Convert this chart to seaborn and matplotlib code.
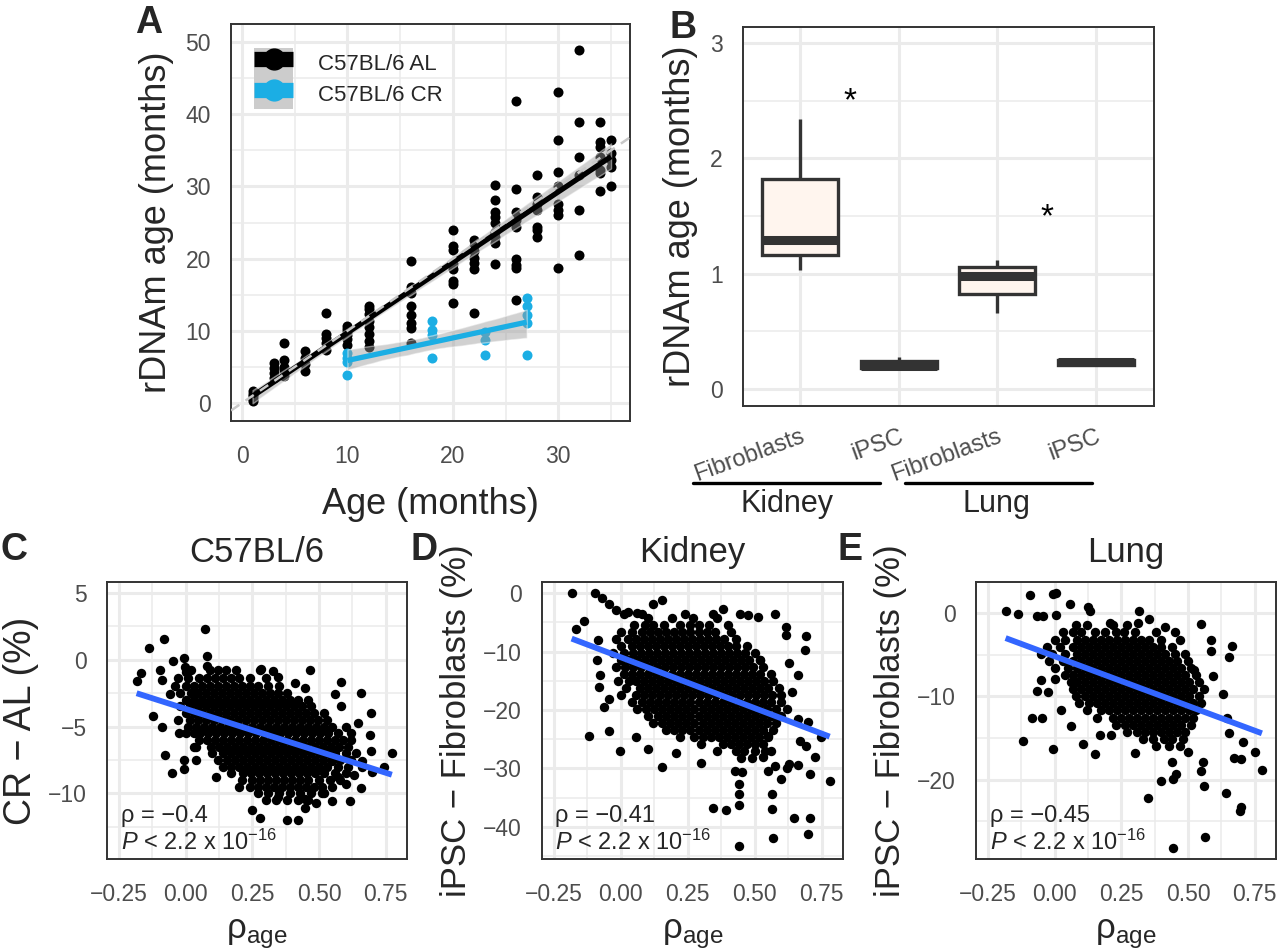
import pandas as pd
import seaborn as sns
import matplotlib.pyplot as plt
from matplotlib.ticker import AutoMinorLocator
from matplotlib.lines import Line2D
from matplotlib.patches import Rectangle
from matplotlib.collections import PolyCollection
from matplotlib.legend_handler import HandlerTuple
from matplotlib.transforms import blended_transform_factory

sns.set_style("white")
plt.rcParams['font.family'] = ['Liberation Sans', 'DejaVu Sans']
plt.rcParams['mathtext.fontset'] = 'custom'
plt.rcParams['mathtext.rm'] = 'Liberation Sans'
plt.rcParams['mathtext.it'] = 'Liberation Sans:italic'
plt.rcParams['axes.unicode_minus'] = True

# ---- panel A: rDNAm age vs age ----
al_ages = [1, 3, 4, 6, 8, 10, 12, 16, 20, 22, 24, 26, 28, 30, 32, 34, 35]
al_values = [
    [0.3, 0.6, 0.9, 1.2, 1.6],
    [3.4, 4.2, 4.8, 5.5],
    [3.8, 4.6, 5.0, 6.0, 8.3],
    [4.4, 5.4, 6.2, 7.2],
    [7.4, 8.3, 9.0, 9.6, 12.5],
    [8.1, 8.8, 9.4, 9.9, 10.3, 10.6],
    [7.8, 8.6, 9.6, 10.5, 11.4, 12.3, 13.0, 13.5],
    [8.3, 10.4, 11.1, 12.2, 13.4, 15.2, 16.1, 19.7],
    [13.9, 16.5, 16.9, 18.5, 19.3, 21.2, 21.8, 24.0],
    [12.5, 18.5, 19.4, 20.1, 21.0, 21.7, 22.6],
    [19.3, 22.1, 23.0, 23.7, 24.9, 25.8, 26.5, 28.1, 30.2],
    [14.3, 18.7, 19.1, 20.0, 24.4, 25.3, 26.5, 29.7, 41.8],
    [23.0, 24.0, 24.4, 26.7, 27.6, 28.6, 31.6],
    [18.7, 26.0, 26.7, 27.6, 30.0, 32.0, 36.4, 43.1],
    [20.5, 26.7, 31.6, 34.1, 38.9, 48.9],
    [29.3, 31.8, 32.3, 34.1, 35.5, 36.2, 38.9],
    [30.0, 32.7, 33.6, 34.6, 36.4],
]
cr_ages = [10, 18, 23, 27]
cr_values = [
    [3.9, 5.7, 6.3, 6.9],
    [6.2, 9.4, 10.1, 11.4],
    [6.7, 8.7, 9.8],
    [6.7, 11.1, 12.2, 13.4, 14.5],
]
legend_labels = ['C57BL/6 AL', 'C57BL/6 CR']

# ---- panel B: boxplots ----
b_groups = ['Kidney Fibroblasts', 'Kidney iPSC', 'Lung Fibroblasts', 'Lung iPSC']
b_ticklabels = ['Fibroblasts', 'iPSC', 'Fibroblasts', 'iPSC']
b_values = [
    [1.03, 1.16, 1.29, 1.82, 2.34],
    [0.17, 0.18, 0.20, 0.24, 0.28],
    [0.66, 0.82, 0.98, 1.06, 1.12],
    [0.20, 0.21, 0.23, 0.25, 0.26],
]
b_star_x = [0.5, 2.5]
b_star_y = [2.42, 1.41]
tissues = ['Kidney', 'Lung']

# ---- panel C: CR - AL vs rho_age ----
c_row_y = [-0.8, -1.4, -2.0, -2.5, -3.0, -3.5, -4.0, -4.5, -5.0, -5.5,
           -6.0, -6.5, -7.0, -7.5, -8.0, -8.5, -9.0, -9.5, -10.0, -10.5]
c_row_x = [
    [0.02, 0.09, 0.12, 0.15, 0.19, 0.28],
    [-0.03, 0.01, 0.05, 0.08, 0.11, 0.14, 0.17, 0.20, 0.24, 0.30],
    [-0.04, 0.0, 0.03, 0.06, 0.09, 0.12, 0.15, 0.18, 0.21, 0.24, 0.27, 0.31, 0.35],
    [-0.02, 0.02, 0.045, 0.075, 0.105, 0.135, 0.165, 0.195, 0.225, 0.255, 0.285, 0.315, 0.345, 0.38],
    [0.0, 0.03, 0.06, 0.09, 0.12, 0.15, 0.18, 0.21, 0.24, 0.27, 0.30, 0.33, 0.36, 0.39, 0.42, 0.46],
    [-0.02, 0.015, 0.045, 0.075, 0.105, 0.135, 0.165, 0.195, 0.225, 0.255, 0.285, 0.315, 0.345, 0.375, 0.405, 0.435, 0.47],
    [0.0, 0.03, 0.06, 0.09, 0.12, 0.15, 0.18, 0.21, 0.24, 0.27, 0.30, 0.33, 0.36, 0.39, 0.42, 0.45, 0.48, 0.52],
    [-0.03, 0.015, 0.045, 0.075, 0.105, 0.135, 0.165, 0.195, 0.225, 0.255, 0.285, 0.315, 0.345, 0.375, 0.405, 0.435, 0.465, 0.495, 0.53],
    [0.01, 0.04, 0.07, 0.10, 0.13, 0.16, 0.19, 0.22, 0.25, 0.28, 0.31, 0.34, 0.37, 0.40, 0.43, 0.46, 0.49, 0.52, 0.55, 0.60],
    [0.0, 0.03, 0.055, 0.085, 0.115, 0.145, 0.175, 0.205, 0.235, 0.265, 0.295, 0.325, 0.355, 0.385, 0.415, 0.445, 0.475, 0.505, 0.535, 0.57, 0.62],
    [0.05, 0.08, 0.11, 0.14, 0.17, 0.20, 0.23, 0.26, 0.29, 0.32, 0.35, 0.38, 0.41, 0.44, 0.47, 0.50, 0.53, 0.56, 0.59],
    [0.03, 0.095, 0.125, 0.155, 0.185, 0.215, 0.245, 0.275, 0.305, 0.335, 0.365, 0.395, 0.425, 0.455, 0.485, 0.515, 0.545, 0.575, 0.61],
    [0.10, 0.14, 0.17, 0.20, 0.23, 0.26, 0.29, 0.32, 0.35, 0.38, 0.41, 0.44, 0.47, 0.50, 0.53, 0.56, 0.60, 0.64],
    [0.12, 0.155, 0.185, 0.215, 0.245, 0.275, 0.305, 0.335, 0.365, 0.395, 0.425, 0.455, 0.485, 0.515, 0.545, 0.58, 0.62],
    [0.14, 0.17, 0.20, 0.23, 0.26, 0.29, 0.32, 0.35, 0.38, 0.41, 0.44, 0.47, 0.50, 0.53, 0.57, 0.61, 0.66],
    [0.17, 0.215, 0.245, 0.275, 0.305, 0.335, 0.365, 0.395, 0.425, 0.455, 0.485, 0.52, 0.56, 0.60],
    [0.21, 0.25, 0.28, 0.31, 0.34, 0.37, 0.40, 0.43, 0.46, 0.50, 0.54, 0.58],
    [0.24, 0.27, 0.30, 0.33, 0.36, 0.39, 0.42, 0.45, 0.48, 0.51, 0.55],
    [0.27, 0.31, 0.35, 0.39, 0.43, 0.47, 0.52],
    [0.30, 0.34, 0.38, 0.42, 0.46],
]
c_out_x = [0.071, -0.081, -0.139, -0.184, -0.168, -0.124, -0.088, -0.078, -0.051, -0.006,
           -0.008, -0.096, -0.088, -0.047, -0.001, -0.007, 0.08, 0.08, 0.249, 0.28,
           0.38, 0.42, 0.447, 0.49, 0.615, 0.547, 0.658, 0.773, 0.743, 0.696,
           0.69, 0.696, 0.658, 0.583, 0.466, 0.329, 0.348, 0.283, 0.411, 0.446,
           0.56, 0.583, 0.645, 0.62, 0.547, 0.57, 0.51, 0.447, 0.348, 0.2,
           0.112, 0.037, -0.025, 0.037, 0.66, 0.63, 0.70, 0.60, -0.06, 0.0]
c_out_y = [2.25, 1.55, 0.83, -1.63, -1.0, -4.25, -5.0, -7.1, -8.45, -8.2,
           -7.5, -0.75, -1.5, -0.12, -0.55, 0.12, 0.3, -0.45, -11.25, -11.8,
           -12.0, -11.95, -11.1, -10.7, -10.6, -10.6, -9.6, -7.0, -8.0, -4.0,
           -5.6, -6.8, -2.5, -1.7, -0.8, -0.88, -1.33, -0.7, -1.75, -2.1,
           -2.6, -3.5, -4.75, -6.0, -7.6, -8.75, -10.0, -10.4, -10.25, -9.5,
           -8.75, -7.5, -5.5, -6.5, -7.6, -8.6, -8.4, -9.3, -2.6, -0.9]

# ---- panel D: Kidney iPSC - Fibroblasts vs rho_age ----
d_row_y = [-4.2, -5.4, -6.6, -7.8, -9.0, -10.2, -11.4, -12.6, -13.8, -15.0,
           -16.2, -17.4, -18.6, -19.8, -21.0, -22.2, -23.4, -24.6, -25.8, -27.0, -28.2]
d_row_x = [
    [0.10, 0.19, 0.27, 0.36],
    [0.05, 0.09, 0.12, 0.16, 0.22, 0.26, 0.29, 0.33, 0.40],
    [0.0, 0.04, 0.08, 0.11, 0.14, 0.17, 0.20, 0.23, 0.26, 0.29, 0.32, 0.35, 0.41],
    [-0.02, 0.025, 0.055, 0.085, 0.115, 0.145, 0.175, 0.205, 0.235, 0.265, 0.295, 0.325, 0.355, 0.385, 0.43],
    [0.0, 0.04, 0.07, 0.10, 0.13, 0.16, 0.19, 0.22, 0.25, 0.28, 0.31, 0.34, 0.37, 0.40, 0.43, 0.47],
    [-0.03, 0.01, 0.045, 0.075, 0.105, 0.135, 0.165, 0.195, 0.225, 0.255, 0.285, 0.315, 0.345, 0.375, 0.405, 0.435, 0.465, 0.50],
    [0.0, 0.03, 0.06, 0.09, 0.12, 0.15, 0.18, 0.21, 0.24, 0.27, 0.30, 0.33, 0.36, 0.39, 0.42, 0.45, 0.48, 0.52],
    [-0.02, 0.015, 0.045, 0.075, 0.105, 0.135, 0.165, 0.195, 0.225, 0.255, 0.285, 0.315, 0.345, 0.375, 0.405, 0.435, 0.465, 0.495, 0.53],
    [0.01, 0.04, 0.07, 0.10, 0.13, 0.16, 0.19, 0.22, 0.25, 0.28, 0.31, 0.34, 0.37, 0.40, 0.43, 0.46, 0.49, 0.52, 0.56],
    [-0.01, 0.03, 0.055, 0.085, 0.115, 0.145, 0.175, 0.205, 0.235, 0.265, 0.295, 0.325, 0.355, 0.385, 0.415, 0.445, 0.475, 0.505, 0.535, 0.57],
    [0.02, 0.07, 0.10, 0.13, 0.16, 0.19, 0.22, 0.25, 0.28, 0.31, 0.34, 0.37, 0.40, 0.43, 0.46, 0.49, 0.52, 0.55, 0.59],
    [0.0, 0.055, 0.085, 0.115, 0.145, 0.175, 0.205, 0.235, 0.265, 0.295, 0.325, 0.355, 0.385, 0.415, 0.445, 0.475, 0.505, 0.535, 0.565, 0.60],
    [0.04, 0.08, 0.11, 0.14, 0.17, 0.20, 0.23, 0.26, 0.29, 0.32, 0.35, 0.38, 0.41, 0.44, 0.47, 0.50, 0.53, 0.56, 0.60],
    [0.06, 0.095, 0.125, 0.155, 0.185, 0.215, 0.245, 0.275, 0.305, 0.335, 0.365, 0.395, 0.425, 0.455, 0.485, 0.515, 0.545, 0.58, 0.62],
    [0.10, 0.14, 0.17, 0.20, 0.23, 0.26, 0.29, 0.32, 0.35, 0.38, 0.41, 0.44, 0.47, 0.50, 0.53, 0.56, 0.60],
    [0.12, 0.155, 0.185, 0.215, 0.245, 0.275, 0.305, 0.335, 0.365, 0.395, 0.425, 0.455, 0.485, 0.515, 0.545, 0.58],
    [0.17, 0.20, 0.23, 0.26, 0.29, 0.32, 0.35, 0.38, 0.41, 0.44, 0.47, 0.50, 0.53, 0.57],
    [0.22, 0.275, 0.305, 0.335, 0.365, 0.395, 0.425, 0.455, 0.485, 0.515, 0.55],
    [0.30, 0.38, 0.41, 0.44, 0.47, 0.50, 0.53],
    [0.36, 0.43, 0.46, 0.50, 0.54],
    [0.45, 0.49],
]
d_out_x = [-0.184, -0.096, -0.071, -0.045, -0.02, 0.01, -0.138, -0.169, -0.119, -0.044,
           -0.004, 0.058, 0.103, 0.153, 0.205, 0.30, 0.343, 0.393, 0.443, 0.44,
           0.443, 0.443, 0.426, 0.563, 0.57, 0.645, 0.707, 0.70, 0.78, 0.707,
           0.726, 0.628, 0.576, 0.551, 0.563, 0.454, 0.687, 0.692, 0.618, 0.618,
           0.576, 0.513, 0.476, 0.445, 0.383, 0.345, 0.24, 0.153, 0.121, 0.028,
           0.059, 0.078, -0.084, -0.09, -0.078, -0.08, -0.065, -0.044, 0.67, 0.69,
           0.746, 0.549, 0.52, 0.60, 0.62, 0.66, 0.70, 0.66, 0.64, 0.66,
           0.63, 0.56, 0.53]
d_out_y = [0.0, 0.0, -0.9, -1.9, -2.9, -3.5, -4.75, -6.1, -24.4, -23.65,
           -26.97, -24.7, -26.7, -29.8, -27.4, -29.0, -36.8, -37.2, -36.3, -43.3,
           -34.4, -32.7, -30.4, -37.0, -41.9, -38.5, -38.5, -41.2, -32.2, -30.9,
           -28.1, -29.2, -29.6, -30.4, -34.4, -30.7, -9.8, -7.4, -5.8, -7.2,
           -3.5, -4.1, -3.8, -3.6, -2.8, -3.5, -3.5, -1.2, -1.9, -3.2,
           -3.4, -3.5, -8.1, -11.5, -14.1, -16.1, -19.5, -18.1, -25.3, -26.1,
           -24.7, -24.4, -11.5, -31.8, -29.9, -29.5, -22.0, -21.5, -17.0, -14.0,
           -12.0, -27.0, -28.0]

# ---- panel E: Lung iPSC - Fibroblasts vs rho_age ----
e_row_y = [-1.5, -2.35, -3.2, -4.05, -4.9, -5.75, -6.6, -7.45, -8.3, -9.15,
           -10.0, -10.85, -11.7, -12.55, -13.4, -14.25, -15.1, -15.95]
e_row_x = [
    [0.08, 0.12, 0.22, 0.27],
    [0.03, 0.07, 0.10, 0.15, 0.19, 0.23, 0.26, 0.30, 0.38, 0.45],
    [0.0, 0.04, 0.085, 0.115, 0.145, 0.175, 0.205, 0.235, 0.265, 0.295, 0.325, 0.355, 0.40, 0.47],
    [-0.03, 0.02, 0.07, 0.10, 0.13, 0.16, 0.19, 0.22, 0.25, 0.28, 0.31, 0.34, 0.37, 0.40, 0.44],
    [-0.05, -0.01, 0.04, 0.085, 0.115, 0.145, 0.175, 0.205, 0.235, 0.265, 0.295, 0.325, 0.355, 0.385, 0.415, 0.45, 0.49],
    [-0.02, 0.03, 0.07, 0.10, 0.13, 0.16, 0.19, 0.22, 0.25, 0.28, 0.31, 0.34, 0.37, 0.40, 0.43, 0.46, 0.50],
    [0.0, 0.05, 0.085, 0.115, 0.145, 0.175, 0.205, 0.235, 0.265, 0.295, 0.325, 0.355, 0.385, 0.415, 0.445, 0.475, 0.51],
    [0.04, 0.07, 0.10, 0.13, 0.16, 0.19, 0.22, 0.25, 0.28, 0.31, 0.34, 0.37, 0.40, 0.43, 0.46, 0.49, 0.53],
    [0.06, 0.085, 0.115, 0.145, 0.175, 0.205, 0.235, 0.265, 0.295, 0.325, 0.355, 0.385, 0.415, 0.445, 0.475, 0.505, 0.54],
    [0.07, 0.10, 0.13, 0.16, 0.19, 0.22, 0.25, 0.28, 0.31, 0.34, 0.37, 0.40, 0.43, 0.46, 0.49, 0.52, 0.56],
    [0.08, 0.115, 0.145, 0.175, 0.205, 0.235, 0.265, 0.295, 0.325, 0.355, 0.385, 0.415, 0.445, 0.475, 0.505, 0.54],
    [0.09, 0.13, 0.16, 0.19, 0.22, 0.25, 0.28, 0.31, 0.34, 0.37, 0.40, 0.43, 0.46, 0.49, 0.52, 0.55],
    [0.12, 0.175, 0.205, 0.235, 0.265, 0.295, 0.325, 0.355, 0.385, 0.415, 0.445, 0.475, 0.505, 0.53],
    [0.16, 0.22, 0.25, 0.28, 0.31, 0.34, 0.37, 0.40, 0.43, 0.46, 0.49, 0.52],
    [0.23, 0.265, 0.295, 0.325, 0.355, 0.385, 0.415, 0.445, 0.475, 0.51],
    [0.27, 0.31, 0.34, 0.37, 0.40, 0.43, 0.46, 0.49],
    [0.33, 0.37, 0.41, 0.44, 0.48],
    [0.38, 0.43, 0.47],
]
e_out_x = [-0.184, -0.139, -0.093, -0.006, 0.006, 0.056, 0.125, 0.132, -0.068, -0.043,
           0.006, 0.315, 0.352, 0.313, 0.207, 0.413, 0.547, 0.587, 0.664, 0.655,
           0.587, 0.524, 0.593, 0.631, 0.647, 0.655, 0.706, 0.75, 0.777, 0.672,
           0.70, 0.644, 0.70, 0.694, 0.562, 0.443, 0.349, 0.399, 0.443, 0.455,
           0.439, 0.561, 0.548, 0.556, 0.50, -0.12, -0.006, -0.086, -0.049, 0.153,
           0.107, 0.061, 0.023, -0.068, -0.025, -0.05, 0.0, 0.169, 0.212, 0.30]
e_out_y = [0.28, -0.12, 2.17, 2.3, 2.4, 1.08, 0.68, 0.17, -0.36, -0.36,
           -0.24, 0.28, -0.76, -1.16, -1.16, -1.7, -1.3, -3.2, -4.0, -5.3,
           -4.6, -6.9, -7.6, -9.7, -12.6, -14.4, -15.5, -16.7, -18.8, -17.4,
           -17.5, -21.6, -23.3, -23.7, -26.9, -28.2, -22.2, -20.2, -19.9, -19.3,
           -17.9, -20.7, -18.9, -17.9, -16.7, -15.4, -16.3, -12.6, -12.6, -16.9,
           -15.7, -13.6, -11.7, -9.4, -9.5, -8.1, -7.9, -14.7, -14.7, -16.8]

bottom_titles = ['C57BL/6', 'Kidney', 'Lung']
bottom_ylabels = ['CR \u2212 AL (%)', 'iPSC \u2212 Fibroblasts (%)', 'iPSC \u2212 Fibroblasts (%)']
bottom_rho = ['\u03c1 = \u22120.4', '\u03c1 = \u22120.41', '\u03c1 = \u22120.45']
rho_ticks = [-0.25, 0.0, 0.25, 0.5, 0.75]
rho_ticklabels = ['\u22120.25', '0.00', '0.25', '0.50', '0.75']

CR_COLOR = '#1BAEE4'
SMOOTH_BLUE = '#3366FF'
TICK_GREY = '#4D4D4D'
FRAME = '#333333'


def grouped_frame(keys, groups, kname, vname):
    rows = [(k, v) for k, vals in zip(keys, groups) for v in vals]
    return pd.DataFrame(rows, columns=[kname, vname])


def cloud_frame(row_y, row_x, out_x, out_y):
    xs = [x for xr in row_x for x in xr] + list(out_x)
    ys = [y for xr, y in zip(row_x, row_y) for _ in xr] + list(out_y)
    return pd.DataFrame({'rho_age': xs, 'diff': ys})


def style_axes(ax, minor_x=True, minor_y=True):
    if minor_x:
        ax.xaxis.set_minor_locator(AutoMinorLocator(2))
    if minor_y:
        ax.yaxis.set_minor_locator(AutoMinorLocator(2))
    ax.grid(which='major', color='#EBEBEB', lw=2.2)
    ax.grid(which='minor', color='#EBEBEB', lw=1.1)
    ax.set_axisbelow(True)
    for s in ax.spines.values():
        s.set_color(FRAME)
        s.set_linewidth(1.4)
    ax.tick_params(which='major', length=8.5, width=2.4, color=FRAME,
                   labelcolor=TICK_GREY, labelsize=16.5)
    ax.tick_params(axis='x', which='major', pad=9)
    ax.tick_params(axis='y', which='major', pad=6)
    ax.tick_params(which='minor', length=0)


df_al = grouped_frame(al_ages, al_values, 'age', 'rdnam')
df_cr = grouped_frame(cr_ages, cr_values, 'age', 'rdnam')
df_b = grouped_frame(b_groups, b_values, 'group', 'rdnam')
clouds = [cloud_frame(c_row_y, c_row_x, c_out_x, c_out_y),
          cloud_frame(d_row_y, d_row_x, d_out_x, d_out_y),
          cloud_frame(e_row_y, e_row_x, e_out_x, e_out_y)]

fig = plt.figure(figsize=(12.8, 9.5), dpi=100)
axA = fig.add_axes([0.1805, 0.5568, 0.3117, 0.4179])
axB = fig.add_axes([0.5805, 0.5726, 0.3211, 0.3989])
axC = fig.add_axes([0.0836, 0.0958, 0.2344, 0.2916])
axD = fig.add_axes([0.4234, 0.0958, 0.2352, 0.2916])
axE = fig.add_axes([0.7625, 0.0958, 0.2344, 0.2916])

# ---------- A ----------
for df, col in [(df_al, 'black'), (df_cr, CR_COLOR)]:
    n_before = len(axA.collections)
    sns.regplot(data=df, x='age', y='rdnam', ax=axA, ci=95, color=col,
                scatter_kws=dict(s=52, linewidths=0, alpha=1, zorder=3),
                line_kws=dict(lw=3.8, zorder=4, solid_capstyle='butt'))
    for coll in axA.collections[n_before:]:
        if isinstance(coll, PolyCollection):
            coll.set_facecolor('#9A9A9A')
            coll.set_alpha(0.45)
            coll.set_zorder(3.5)
axA.axline((0, 0), slope=1, color='#C8C8C8', ls=(0, (4, 3)), lw=1.8, zorder=5)
axA.set_xlim(-1.04, 36.8)
axA.set_ylim(-2.5, 52.5)
axA.set_xticks([0, 10, 20, 30])
axA.set_yticks([0, 10, 20, 30, 40, 50])
style_axes(axA)
axA.set_xlabel('Age (months)', fontsize=26)
axA.set_ylabel('rDNAm age (months)', fontsize=26)
axA.xaxis.set_label_coords(0.5, -0.21)
axA.xaxis.label.set_va('center')
axA.yaxis.set_label_coords(-0.188, 0.5)
axA.yaxis.label.set_va('center')

handles = []
for col in ['black', CR_COLOR]:
    handles.append((Rectangle((0, 0), 1, 1, fc='#CCCCCC', ec='none'),
                    Line2D([], [], color=col, lw=11, marker='o', ms=15,
                           solid_capstyle='butt')))
axA.legend(handles, legend_labels,
           handler_map={tuple: HandlerTuple(ndivide=1, pad=0)},
           loc='upper left', bbox_to_anchor=(0.058, 0.94), frameon=False,
           fontsize=16, handlelength=1.75, handleheight=1.75, labelspacing=0.0,
           handletextpad=1.1, borderpad=0, borderaxespad=0)

# ---------- B ----------
sns.boxplot(data=df_b, x='group', y='rdnam', order=b_groups, ax=axB, width=0.77,
            color='#FFF5EE', saturation=1, linecolor=FRAME, linewidth=2.4,
            showcaps=False, fliersize=0, medianprops=dict(lw=6.5, color=FRAME,
                                                         solid_capstyle='butt'))
for sx, sy in zip(b_star_x, b_star_y):
    axB.text(sx, sy, '*', ha='center', va='baseline', fontsize=24, color='black')
axB.set_xlim(-0.58, 3.59)
axB.set_ylim(-0.15, 3.14)
axB.set_yticks([0, 1, 2, 3])
style_axes(axB, minor_x=False)
axB.set_xticks(range(len(b_groups)))
axB.set_xticklabels(b_ticklabels, rotation=20, ha='right', rotation_mode='anchor')
axB.tick_params(axis='x', length=10, pad=4, labelsize=17)
axB.set_xlabel('')
axB.set_ylabel('rDNAm age (months)', fontsize=26)
axB.yaxis.set_label_coords(-0.151, 0.5)
axB.yaxis.label.set_va('center')
trB = blended_transform_factory(axB.transData, axB.transAxes)
for (x0, x1), lx, name in zip([(-1.09, 0.81), (1.06, 2.96)], [-0.13, 1.99], tissues):
    axB.plot([x0, x1], [-0.203, -0.203], transform=trB, clip_on=False, color='black', lw=2.4)
    axB.text(lx, -0.258, name, transform=trB, ha='center', va='center', fontsize=22)

# ---------- C, D, E ----------
ylims = [(-14.9, 5.8), (-45.5, 1.9), (-29.5, 3.7)]
yticks = [[-10, -5, 0, 5], [-40, -30, -20, -10, 0], [-20, -10, 0]]
ylab_sizes = [27, 25, 25]
for ax, df, title, ylab, ysz, rho, ylim, yt in zip(
        [axC, axD, axE], clouds, bottom_titles, bottom_ylabels, ylab_sizes,
        bottom_rho, ylims, yticks):
    sns.regplot(data=df, x='rho_age', y='diff', ax=ax, ci=None, color='black',
                scatter_kws=dict(s=46, linewidths=0, alpha=1, zorder=3),
                line_kws=dict(color=SMOOTH_BLUE, lw=4.2, zorder=4, solid_capstyle='butt'))
    ax.set_xlim(-0.295, 0.83)
    ax.set_ylim(*ylim)
    ax.set_xticks(rho_ticks)
    ax.set_xticklabels(rho_ticklabels)
    ax.set_yticks(yt)
    style_axes(ax)
    ax.set_xlabel('\u03c1$_{\\mathrm{age}}$', fontsize=25)
    ax.xaxis.set_label_coords(0.5, -0.27)
    ax.xaxis.label.set_va('center')
    ax.set_ylabel(ylab, fontsize=ysz)
    ax.yaxis.set_label_coords(-0.285, 0.5)
    ax.yaxis.label.set_va('center')
    ax.text(0.5, 1.105, title, transform=ax.transAxes, ha='center', va='center', fontsize=25)
    ax.text(0.045, 0.155, rho, transform=ax.transAxes, ha='left', va='center', fontsize=17)
    ax.text(0.045, 0.06, '$P$ < 2.2 x 10$^{\\mathrm{\u221216}}$', transform=ax.transAxes,
            ha='left', va='center', fontsize=17)

# panel letters
for lbl, x, y in [('A', 0.116, 0.976), ('B', 0.534, 0.971), ('C', 0.011, 0.421),
                  ('D', 0.331, 0.421), ('E', 0.664, 0.421)]:
    fig.text(x, y, lbl, fontsize=27, fontweight='bold', ha='center', va='center')

fig.savefig('out.png', dpi=100)
